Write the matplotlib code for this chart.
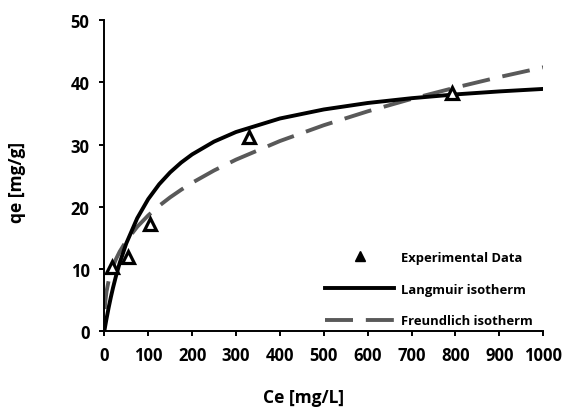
import matplotlib
matplotlib.use("Agg")
import matplotlib.pyplot as plt
from matplotlib.lines import Line2D

plt.rcParams['font.family'] = ['Open Sans', 'DejaVu Sans']
plt.rcParams['font.weight'] = 'bold'

# experimental points
ce_exp = [17, 53, 103, 330, 791]
qe_exp = [10.3, 12.0, 17.2, 31.2, 38.3]

# fitted curves
ce_fit = [0, 2, 5, 10, 15, 20, 27, 35, 50, 75, 100, 125, 150, 175, 200, 250,
          300, 400, 500, 600, 700, 800, 900, 1000]
qe_langmuir = [0.0, 0.82, 2.00, 3.83, 5.50, 7.03, 8.98, 10.96, 14.11, 18.17,
               21.23, 23.62, 25.53, 27.10, 28.41, 30.47, 32.01, 34.18, 35.63,
               36.67, 37.44, 38.05, 38.53, 38.93]
ce_freund = [1, 2, 5, 10, 15, 20, 27, 35, 50, 75, 100, 125, 150, 175, 200, 250,
             300, 400, 500, 600, 700, 800, 900, 1000]
qe_freund = [3.58, 4.59, 6.37, 8.17, 9.44, 10.47, 11.65, 12.79, 14.52, 16.79,
             18.61, 20.16, 21.52, 22.73, 23.85, 25.83, 27.57, 30.56, 33.10,
             35.33, 37.33, 39.15, 40.84, 42.40]

xticks = list(range(0, 1001, 100))
yticks = list(range(0, 51, 10))

W, H = 566, 410
fig = plt.figure(figsize=(W / 100, H / 100), dpi=100)
ax = fig.add_axes([104.3 / W, 1 - 332.3 / H, (543.3 - 104.3) / W, (332.3 - 21) / H])

gray = '#595959'
ax.plot(ce_freund, qe_freund, color=gray, lw=2.8, dashes=(7.2, 3.3))
ax.plot(ce_fit, qe_langmuir, color='black', lw=2.8)
ax.plot(ce_exp, qe_exp, linestyle='none', marker='^', markersize=8.5,
        markerfacecolor='white', markeredgecolor='black', markeredgewidth=2.3)

ax.set_xlim(0, 1000)
ax.set_ylim(0, 50)
ax.set_xticks(xticks)
ax.set_yticks(yticks)
ax.spines['top'].set_visible(False)
ax.spines['right'].set_visible(False)
for s in ['left', 'bottom']:
    ax.spines[s].set_linewidth(1.4)
ax.tick_params(direction='out', length=3.6, width=1.4, labelsize=12, pad=7)
for lab in ax.get_xticklabels() + ax.get_yticklabels():
    lab.set_fontweight('bold')

ax.set_xlabel('Ce [mg/L]', fontsize=12.5, fontweight='bold')
ax.set_ylabel('qe [mg/g]', fontsize=12.5, fontweight='bold')
ax.xaxis.set_label_coords(0.454, -0.183)
ax.yaxis.set_label_coords(-0.178, 0.48)

handles = [
    Line2D([], [], linestyle='none', marker='^', markersize=7, color='black'),
    Line2D([], [], color='black', lw=2.8),
    Line2D([], [], color=gray, lw=2.8, dashes=(7.2, 3.3)),
]
labels = ['Experimental Data', 'Langmuir isotherm', 'Freundlich isotherm']
leg = ax.legend(handles, labels, loc='upper left', frameon=False,
                fontsize=9.4, handlelength=5.3, handletextpad=0.5,
                labelspacing=1.42, borderpad=0, borderaxespad=0,
                bbox_to_anchor=(325 / W, 1 - 252 / H),
                bbox_transform=fig.transFigure)
for t in leg.get_texts():
    t.set_fontweight('bold')

fig.savefig('out.png', dpi=100)
